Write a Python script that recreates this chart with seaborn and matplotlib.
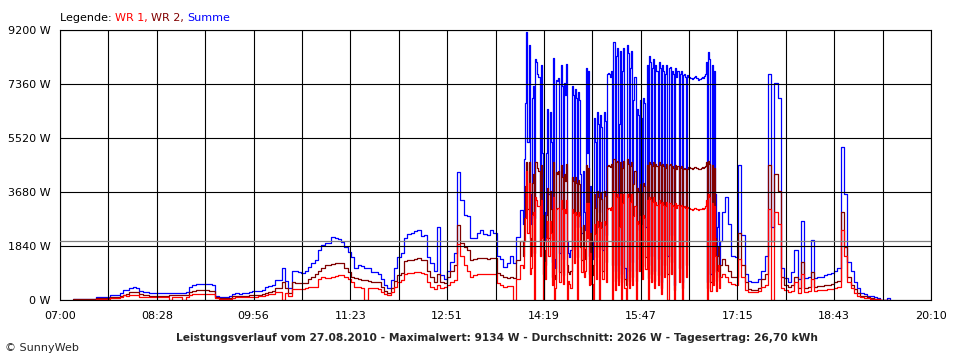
import numpy as np
import pandas as pd
import seaborn as sns
import matplotlib
matplotlib.use("Agg")
import matplotlib.pyplot as plt
from matplotlib.offsetbox import TextArea, HPacker, AnchoredOffsetbox

# readings in W, three parts of the day:
#   am  : 07:12 - 13:57, every 3 minutes
#   pm  : 14:00 - 16:59, every minute (cloudy, very spiky)
#   eve : 17:00 - 19:33, every 3 minutes

summe_am = [
    30, 30, 30, 30, 30, 30, 35, 110, 110, 115, 115, 160, 170, 175, 240, 340,
    340, 420, 430, 420, 300, 284, 280, 230, 230, 230, 230, 230, 230, 250, 250, 250, 250, 250, 260, 430,
    500, 540, 545, 540, 540, 530, 500, 150, 110, 90, 100, 130, 200, 230, 220, 230, 250, 280, 290, 290,
    300, 340, 430, 480, 510, 680, 680, 1080, 650, 400, 1000, 980, 960, 930, 1000, 1135, 1250, 1360, 1700, 1870,
    1930, 1950, 2135, 2120, 2080, 1990, 1800, 1650, 1476, 1090, 1200, 1150, 1100, 1080, 965, 965, 900, 700, 500, 400,
    681, 1100, 1476, 1590, 2100, 2250, 2300, 2350, 2396, 2180, 2215, 1450, 1250, 1000, 2476, 850, 700, 1000, 1300, 1600,
    4370, 3400, 2900, 2850, 2100, 2100, 2300, 2385, 2250, 2215, 2400, 2300, 1500, 1400, 1135, 1250, 1500, 1250, 2158, 3066,
]
wr2_am = [
    20, 20, 20, 20, 20, 20, 25, 70, 70, 75, 75, 100, 100, 105, 130, 180,
    190, 260, 270, 260, 190, 170, 170, 145, 145, 145, 145, 145, 145, 160, 160, 160, 160, 160, 165, 270,
    300, 330, 330, 330, 330, 320, 300, 90, 65, 55, 60, 80, 120, 140, 130, 140, 150, 170, 175, 175,
    180, 200, 250, 280, 300, 400, 400, 620, 420, 250, 600, 590, 580, 570, 580, 700, 800, 900, 1000, 1100,
    1190, 1190, 1230, 1250, 1250, 1250, 1100, 950, 800, 740, 700, 690, 680, 640, 630, 620, 600, 450, 300, 230,
    400, 650, 850, 909, 1330, 1360, 1380, 1400, 1420, 1380, 1350, 1000, 800, 620, 900, 600, 568, 800, 1000, 1200,
    2555, 1931, 1800, 1703, 1363, 1400, 1420, 1420, 1420, 1400, 1420, 1420, 909, 850, 800, 738, 800, 760, 1363, 2000,
]
wr1_am = [
    10, 10, 10, 10, 10, 10, 10, 40, 40, 40, 40, 60, 70, 70, 110, 160,
    150, 160, 160, 160, 110, 114, 110, 90, 90, 90, 90, 90, 90, 0, 100, 100, 100, 0, 100, 160,
    200, 210, 215, 210, 210, 210, 200, 60, 45, 35, 40, 50, 80, 90, 90, 90, 100, 110, 115, 115,
    120, 140, 180, 200, 210, 280, 280, 0, 250, 150, 390, 390, 390, 360, 420, 440, 450, 460, 700, 770,
    740, 760, 800, 820, 850, 850, 780, 700, 624, 450, 430, 420, 0, 400, 400, 400, 380, 280, 200, 170,
    280, 450, 620, 680, 900, 920, 930, 950, 970, 920, 880, 600, 450, 380, 500, 420, 454, 500, 600, 680,
    1900, 1500, 1200, 1000, 800, 850, 880, 900, 900, 880, 900, 900, 568, 520, 454, 480, 480, 0, 700, 1200,
]

summe_pm = [
    # 14:00
    2600, 4800, 6700, 9134, 5400, 8700, 3600, 2600, 6900, 7300, 2800, 8200, 8100, 7700, 7600,
    3500, 8000, 5000, 1500, 3000, 2000, 5000, 6500, 3600, 6400, 5400, 1300, 8240, 1400, 1100,
    7500, 7450, 7550, 1600, 8000, 7300, 1400, 7400, 7000, 8050, 2000, 1600, 1450, 1700, 7300,
    7000, 3000, 7200, 6900, 2500, 7100, 6800, 4300, 2300, 4400, 3000, 2400, 7900, 5000, 7800,
    # 15:00
    1500, 3900, 1400, 2000, 6200, 5400, 2500, 6400, 6000, 3000, 6300, 5900, 1700, 6400, 6100,
    2200, 7700, 7750, 7700, 7600, 7800, 2000, 8800, 1000, 8300, 8600, 1200, 6000, 8500, 900,
    7800, 8600, 1100, 700, 8700, 8400, 1000, 7900, 8500, 1300, 6800, 7600, 1000, 6500, 6300,
    2400, 6800, 6200, 1900, 6900, 6700, 2500, 8000, 1200, 8300, 8100, 1500, 7900, 8200, 1000,
    # 16:00
    8000, 7800, 1400, 8100, 7900, 600, 8000, 7800, 2000, 7700, 8000, 1500, 7900, 7950, 2200,
    7800, 7700, 500, 7900, 7600, 7800, 1800, 7700, 7800, 600, 7650, 7700, 7600, 2000, 7650,
    7600, 7580, 7550, 7520, 7560, 7600, 7620, 7580, 7550, 7500, 7540, 7560, 7600, 7580, 7620,
    7700, 8100, 600, 8460, 8200, 900, 8000, 1500, 7800, 3600, 1000, 2500, 3000, 1200, 2000,
]
wr2_pm = [
    1500, 2800, 3900, 4700, 3100, 4700, 2100, 1500, 4000, 4300, 1600, 4700, 4700, 4500, 4400,
    2000, 4600, 2900, 900, 1700, 1200, 2900, 3800, 2100, 3700, 3100, 800, 4700, 850, 700,
    4350, 4300, 4400, 950, 4600, 4200, 850, 4300, 4050, 4650, 1200, 950, 900, 1000, 4200,
    4050, 1750, 4200, 4000, 1450, 4100, 3950, 2500, 1350, 2550, 1750, 1400, 4600, 2900, 4500,
    900, 2300, 850, 1200, 3600, 3150, 1450, 3700, 3500, 1750, 3650, 3450, 1000, 3700, 3550,
    1300, 4550, 4600, 4580, 4520, 4620, 1200, 4800, 650, 4700, 4750, 750, 3500, 4700, 600,
    4500, 4750, 700, 500, 4800, 4650, 650, 4550, 4700, 800, 3950, 4400, 650, 3800, 3700,
    1400, 3950, 3650, 1150, 4000, 3900, 1450, 4600, 750, 4700, 4650, 900, 4550, 4700, 650,
    4650, 4550, 850, 4700, 4600, 400, 4650, 4550, 1200, 4500, 4650, 900, 4600, 4650, 1300,
    4550, 4500, 350, 4600, 4450, 4550, 1100, 4500, 4550, 400, 4480, 4500, 4450, 1200, 4480,
    4520, 4510, 4490, 4470, 4500, 4520, 4540, 4510, 4490, 4460, 4480, 4500, 4520, 4510, 4540,
    4580, 4700, 400, 4750, 4650, 600, 4600, 950, 4500, 2100, 650, 1500, 1800, 800, 1200,
]
wr1_pm = [
    1100, 2000, 2800, 4400, 2300, 4000, 900, 1100, 2900, 3000, 0, 3500, 3400, 3200, 3200,
    1500, 3400, 2100, 0, 1300, 700, 2100, 2700, 1500, 2700, 2300, 500, 3500, 0, 400,
    3100, 3150, 3150, 600, 3400, 3100, 550, 3100, 2950, 3400, 0, 650, 550, 400, 3100,
    2950, 1250, 3000, 2900, 0, 3000, 2850, 1800, 950, 1850, 800, 1000, 3300, 2100, 3300,
    500, 1600, 550, 0, 2600, 2250, 700, 2700, 2500, 0, 2650, 2450, 700, 2700, 2550,
    600, 3100, 3150, 3120, 3080, 3180, 0, 3700, 350, 3500, 3600, 500, 2500, 3600, 0,
    3300, 3600, 400, 0, 3600, 3500, 400, 3350, 3600, 500, 2850, 3200, 0, 2700, 2600,
    1000, 2850, 2550, 700, 2900, 2800, 1050, 3400, 0, 3500, 3450, 600, 3350, 3500, 400,
    3350, 3250, 500, 3400, 3300, 200, 3350, 3250, 800, 3200, 3350, 0, 3300, 3300, 900,
    3250, 3200, 0, 3300, 3150, 3250, 600, 3200, 3250, 0, 3170, 3200, 3150, 800, 3170,
    3120, 3110, 3100, 3080, 3100, 3120, 3130, 3110, 3100, 3080, 3090, 3100, 3120, 3110, 3130,
    3200, 3400, 0, 3600, 3500, 300, 3300, 500, 3200, 1500, 300, 1000, 1200, 400, 800,
]

summe_eve = [
    3000, 3500, 2600, 1500, 1450, 4600, 2200, 900, 650, 600, 600, 700, 1000, 1500, 7700, 2500, 7400, 6900, 1100, 750,
    620, 950, 1700, 700, 2700, 740, 800, 2050, 760, 780, 800, 840, 880, 920, 1000, 1100, 5200, 3600, 1300, 1000,
    600, 400, 250, 200, 150, 120, 90, 60, 0, 0, 60, 0,
]
wr2_eve = [
    1400, 1200, 1000, 800, 800, 2300, 1200, 600, 380, 340, 340, 400, 700, 900, 4600, 2000, 4300, 3700, 800, 500,
    450, 500, 800, 420, 1300, 420, 450, 950, 460, 470, 490, 500, 520, 560, 600, 650, 3000, 1800, 800, 500,
    380, 250, 150, 120, 90, 70, 50, 30, 0, 0, 0, 0,
]
wr1_eve = [
    900, 800, 600, 550, 520, 1400, 800, 350, 280, 260, 260, 300, 450, 500, 3100, 0, 3000, 2600, 400, 340,
    280, 300, 600, 250, 900, 260, 300, 700, 320, 330, 340, 350, 360, 380, 400, 450, 2400, 1500, 600, 400,
    250, 150, 100, 80, 60, 50, 40, 20, 0, 0, 0, 0,
]

durchschnitt = 2026
y_ticks = [0, 1840, 3680, 5520, 7360, 9200]
x_labels = ['07:00', '08:28', '09:56', '11:23', '12:51', '14:19', '15:47', '17:15', '18:43', '20:10']
x_span = 790  # minutes from 07:00 to 20:10

for a, b, c in [(summe_am, wr1_am, wr2_am), (summe_pm, wr1_pm, wr2_pm), (summe_eve, wr1_eve, wr2_eve)]:
    assert len(a) == len(b) == len(c), (len(a), len(b), len(c))

# minutes after 07:00
minutes = np.concatenate([12 + 3 * np.arange(len(summe_am)),
                          420 + np.arange(len(summe_pm)),
                          600 + 3 * np.arange(len(summe_eve))])
df = pd.DataFrame({'min': minutes,
                   'Summe': summe_am + summe_pm + summe_eve,
                   'WR 2': wr2_am + wr2_pm + wr2_eve,
                   'WR 1': wr1_am + wr1_pm + wr1_eve})
long = df.melt(id_vars='min', var_name='serie', value_name='W')

sns.set_style('white')
plt.rcParams['font.family'] = ['DejaVu Sans']

fig = plt.figure(figsize=(9.6, 3.6), dpi=100)
ax = fig.add_axes([60 / 960, 1 - 300 / 360, 871 / 960, 270 / 360])

sns.lineplot(data=long, x='min', y='W', hue='serie',
             hue_order=['Summe', 'WR 2', 'WR 1'],
             palette={'Summe': '#0000ff', 'WR 2': '#800000', 'WR 1': '#ff0000'},
             drawstyle='steps-post', linewidth=0.9, legend=False, ax=ax)

ax.axhline(durchschnitt, color='#808080', linewidth=0.9, zorder=3)

ax.set_xlim(0, x_span)
ax.set_ylim(0, 9200)
grid_x = np.linspace(0, x_span, 19)
ax.set_xticks(grid_x)
ax.set_xticklabels([x_labels[i // 2] if i % 2 == 0 else '' for i in range(19)])
ax.set_yticks(y_ticks)
ax.set_yticklabels([f'{v} W' for v in y_ticks])
ax.set_xlabel('')
ax.set_ylabel('')

ax.set_axisbelow(False)
ax.grid(True, color='black', linewidth=0.8)
for s in ax.spines.values():
    s.set_color('black')
    s.set_linewidth(0.8)
ax.tick_params(axis='x', direction='out', length=4, width=0.8, pad=4, labelsize=8, colors='black')
ax.tick_params(axis='y', direction='out', length=5, width=0.8, pad=2, labelsize=8, colors='black')

# coloured legend line at the top
parts = [TextArea('Legende: ', textprops=dict(color='black', size=8)),
         TextArea('WR 1, ', textprops=dict(color='#ff0000', size=8)),
         TextArea('WR 2, ', textprops=dict(color='#800000', size=8)),
         TextArea('Summe', textprops=dict(color='#0000ff', size=8))]
box = HPacker(children=parts, align='baseline', pad=0, sep=0)
legend_box = AnchoredOffsetbox(loc='lower left', child=box, pad=0, borderpad=0, frameon=False,
                               bbox_to_anchor=(60 / 960, 1 - 23 / 360),
                               bbox_transform=fig.transFigure)
fig.add_artist(legend_box)

fig.text(497 / 960, 1 - 338 / 360,
         'Leistungsverlauf vom 27.08.2010 - Maximalwert: 9134 W - Durchschnitt: 2026 W - Tagesertrag: 26,70 kWh',
         ha='center', va='center', fontsize=7.7, fontweight='bold')
fig.text(5 / 960, 1 - 348 / 360, '© SunnyWeb', ha='left', va='center', fontsize=8)

fig.savefig('out.png', dpi=100, facecolor='white')
